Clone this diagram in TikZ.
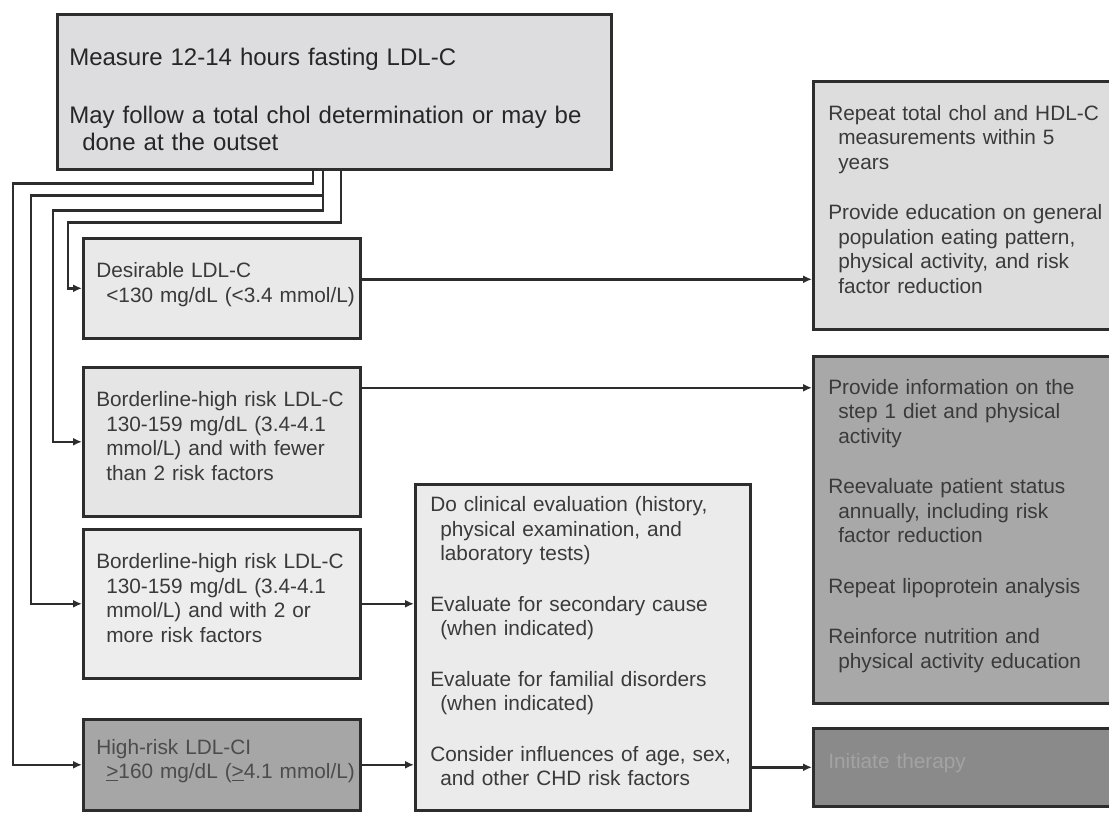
\documentclass[tikz,border=0pt]{standalone}
\usepackage{fontspec}
\setmainfont{Liberation Sans}
\usetikzlibrary{arrows.meta}

\definecolor{lineclr}{RGB}{45,45,45}
\definecolor{txtclr}{RGB}{58,58,58}
\definecolor{topfill}{RGB}{221,221,223}
\definecolor{desfill}{RGB}{233,233,233}
\definecolor{blfill}{RGB}{229,229,229}
\definecolor{bltwofill}{RGB}{237,237,237}
\definecolor{hrfill}{RGB}{166,166,166}
\definecolor{midfill}{RGB}{235,235,235}
\definecolor{recfill}{RGB}{221,221,221}
\definecolor{rectwofill}{RGB}{168,168,168}
\definecolor{initfill}{RGB}{138,138,138}

% second line of an item is set a little to the right, and never broken
\newcommand{\subln}[1]{\mbox{\hspace*{10pt}#1}}

\begin{document}
\begin{tikzpicture}[x=1pt,y=-1pt,
    box/.style={draw=lineclr,line width=2.6pt,anchor=north west,align=left,
        inner xsep=13pt,inner ysep=0pt,text=txtclr,
        font=\fontsize{20.8}{24.5}\selectfont,
        execute at end node={\rule[-12pt]{0pt}{0pt}}},
    link/.style={draw=lineclr,line width=2.6pt,-{Latex[length=9pt,width=8pt]}}]
    \clip (0,0) rectangle (1109,813);

    % Start: the measurement
    \node[box,fill=topfill,inner xsep=12pt,minimum width=554pt,minimum height=155pt,
        text width=530pt,text=black!85,font=\fontsize{24}{27}\selectfont,
        execute at end node={}] (top) at (56,13)
        {\rule{0pt}{45pt}Measure 12-14 hours fasting LDL-C\\[31pt]
         \mbox{May follow a total chol determination or may be}\\
         \hspace*{13pt}done at the outset};

    % Left column: the four LDL-C classes
    \node[box,fill=desfill,minimum width=277pt,minimum height=100pt,text width=251pt] (des) at (82,237)
        {Desirable LDL-C\\ \subln{<130 mg/dL (<3.4 mmol/L)}};
    \node[box,fill=blfill,minimum width=277pt,minimum height=149pt,text width=251pt] (bl1) at (82,366)
        {\mbox{Borderline-high risk LDL-C}\\ \subln{130-159 mg/dL (3.4-4.1}\\
         \subln{mmol/L) and with fewer}\\ \subln{than 2 risk factors}};
    \node[box,fill=bltwofill,minimum width=277pt,minimum height=149pt,text width=251pt] (bl2) at (82,528)
        {\mbox{Borderline-high risk LDL-C}\\ \subln{130-159 mg/dL (3.4-4.1}\\
         \subln{mmol/L) and with 2 or}\\ \subln{more risk factors}};
    \node[box,fill=hrfill,minimum width=277pt,minimum height=91pt,text width=251pt,
        text=black!70] (hr) at (82,718)
        {High-risk LDL-CI\\ \subln{\underline{>}160 mg/dL (\underline{>}4.1 mmol/L)}};

    % Middle: clinical evaluation
    \node[box,fill=midfill,inner xsep=15pt,minimum width=335pt,minimum height=326pt,
        text width=305pt] (mid) at (414,483)
        {Do clinical evaluation (history,\\ \subln{physical examination, and}\\
         \subln{laboratory tests)}\\[26pt]
         Evaluate for secondary cause\\ \subln{(when indicated)}\\[26pt]
         Evaluate for familial disorders\\ \subln{(when indicated)}\\[26pt]
         \mbox{Consider influences of age, sex,}\\ \subln{and other CHD risk factors}};

    % Right column: what to do
    \node[box,fill=recfill,inner xsep=15pt,minimum width=320pt,minimum height=248pt,
        text width=290pt] (rec1) at (812,80)
        {Repeat total chol and HDL-C\\ \subln{measurements within 5}\\ \subln{years}\\[26pt]
         Provide education on general\\ \subln{population eating pattern,}\\
         \subln{physical activity, and risk}\\ \subln{factor reduction}};
    \node[box,fill=rectwofill,inner xsep=15pt,minimum width=320pt,minimum height=347pt,
        text width=290pt] (rec2) at (812,355)
        {Provide information on the\\ \subln{step 1 diet and physical}\\ \subln{activity}\\[26pt]
         Reevaluate patient status\\ \subln{annually, including risk}\\ \subln{factor reduction}\\[26pt]
         Repeat lipoprotein analysis\\[26pt]
         Reinforce nutrition and\\ \subln{physical activity education}};
    \node[box,fill=initfill,inner xsep=15pt,minimum width=320pt,minimum height=78pt,
        text width=290pt,text=black!36] (init) at (812,727)
        {Initiate therapy};

    % Connectors from the start box down the left side
    \draw[link] ([xshift=257pt]top.south west) |- ++(-300,13) |- (hr.west);
    \draw[link] ([xshift=267pt]top.south west) |- ++(-292,25) |- (bl2.west);
    \draw[link] ([xshift=267pt]top.south west) |- ++(-270,40) |- (bl1.west);
    \draw[link] ([xshift=285pt]top.south west) |- ++(-273,52) |- (des.west);

    % Connectors to the right
    \draw[link] ([yshift=9pt]des.east) coordinate (desout) -- (desout -| rec1.west);
    \draw[link] ([yshift=54pt]bl1.east) coordinate (blout) -- (blout -| rec2.west);
    \draw[link] (bl2.east) -- (bl2.east -| mid.west);
    \draw[link] (hr.east) -- (hr.east -| mid.west);
    \draw[link] (init.west -| mid.east) -- (init.west);
\end{tikzpicture}
\end{document}
